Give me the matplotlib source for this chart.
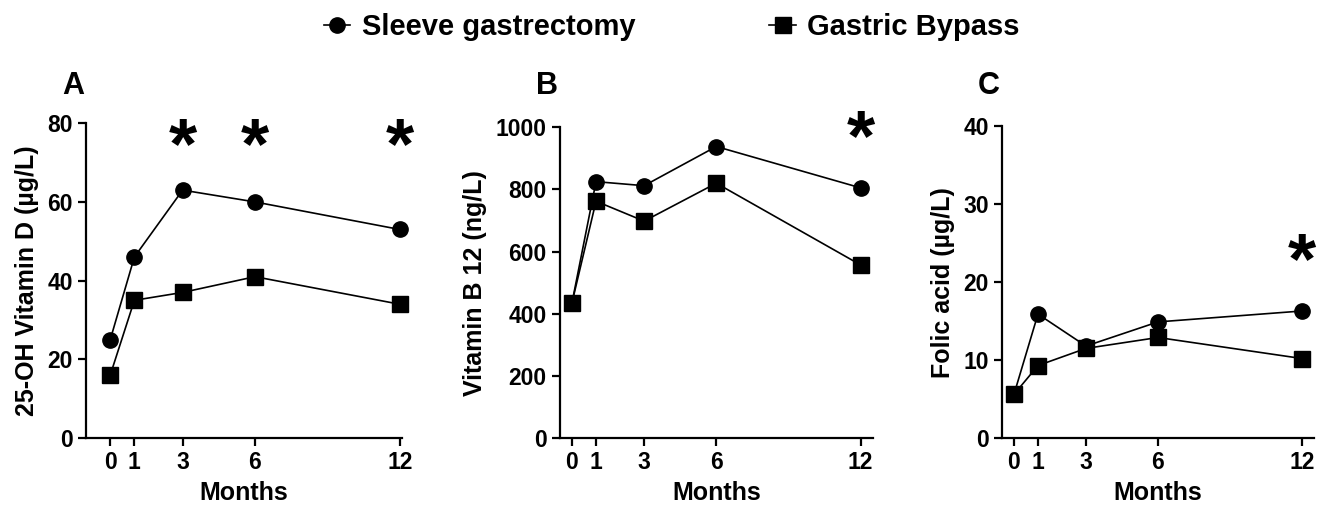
"""Vitamin levels after sleeve gastrectomy vs gastric bypass, three panels."""

import matplotlib

matplotlib.use("Agg")
import matplotlib.pyplot as plt
from matplotlib.lines import Line2D

plt.rcParams["font.family"] = ["Liberation Sans", "DejaVu Sans"]
plt.rcParams["font.weight"] = "bold"

months = [0, 1, 3, 6, 12]

vitd_sleeve = [25, 46, 63, 60, 53]
vitd_bypass = [16, 35, 37, 41, 34]

b12_sleeve = [435, 825, 812, 938, 805]
b12_bypass = [435, 762, 698, 820, 557]

folic_sleeve = [5.6, 15.9, 11.8, 14.9, 16.3]
folic_bypass = [5.6, 9.3, 11.5, 12.9, 10.2]

panels = [
    dict(letter="A", ylabel="25-OH Vitamin D (µg/L)", sleeve=vitd_sleeve, bypass=vitd_bypass,
         ymax=80, yticks=[0, 20, 40, 60, 80], xlim=(-1, 12.1),
         stars=[3, 6, 12], star_y=73.5, rect=[0.065, 0.136, 0.2385, 0.621]),
    dict(letter="B", ylabel="Vitamin B 12 (ng/L)", sleeve=b12_sleeve, bypass=b12_bypass,
         ymax=1000, yticks=[0, 200, 400, 600, 800, 1000], xlim=(-0.5, 12.5),
         stars=[12], star_y=955, rect=[0.4226, 0.136, 0.236, 0.613]),
    dict(letter="C", ylabel="Folic acid (µg/L)", sleeve=folic_sleeve, bypass=folic_bypass,
         ymax=40, yticks=[0, 10, 20, 30, 40], xlim=(-0.5, 12.5),
         stars=[12], star_y=22.3, rect=[0.7562, 0.136, 0.2355, 0.615]),
]

fig = plt.figure(figsize=(13.25, 5.07), dpi=100)

for p in panels:
    ax = fig.add_axes(p["rect"])
    ax.plot(months, p["sleeve"], color="black", lw=1.2, marker="o", ms=11, zorder=3,
            clip_on=False)
    ax.plot(months, p["bypass"], color="black", lw=1.2, marker="s", ms=11, zorder=3,
            clip_on=False)
    for sx in p["stars"]:
        ax.text(sx, p["star_y"], "*", ha="center", va="center", fontsize=52,
                fontweight="bold", clip_on=False)
    ax.set_xlim(*p["xlim"])
    ax.set_ylim(0, p["ymax"])
    ax.set_xticks(months)
    ax.set_yticks(p["yticks"])
    ax.spines[["top", "right"]].set_visible(False)
    ax.spines[["left", "bottom"]].set_linewidth(1.6)
    ax.tick_params(width=1.6, length=6, labelsize=16.5)
    ax.set_xlabel("Months", fontsize=18, fontweight="bold", labelpad=5)
    ax.set_ylabel(p["ylabel"], fontsize=18, fontweight="bold", labelpad=6)
    bbox = ax.get_position()
    fig.text(bbox.x0 - 0.018, 0.83, p["letter"], fontsize=22, fontweight="bold",
             ha="left", va="center")

handles = [
    Line2D([], [], color="black", lw=1.2, marker="o", ms=11),
    Line2D([], [], color="black", lw=1.2, marker="s", ms=11),
]
fig.legend(handles, ["Sleeve gastrectomy", "Gastric Bypass"], loc="center",
           bbox_to_anchor=(0.507, 0.947), ncol=2, frameon=False, fontsize=21,
           handlelength=0.9, handletextpad=0.4, columnspacing=4.6)

fig.savefig("out.png", dpi=100)
